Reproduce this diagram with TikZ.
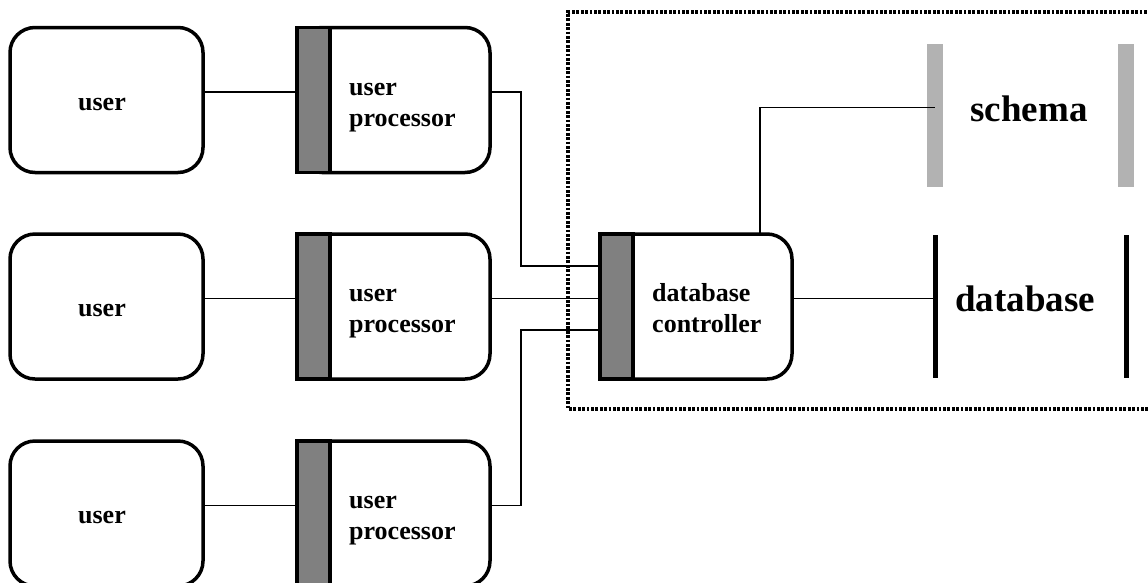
\documentclass[tikz,border=0pt]{standalone}
\usepackage{fontspec}
\setmainfont{Liberation Serif}
\usetikzlibrary{calc}

\tikzset{
  userbox/.style={draw,line width=3.5pt,rounded corners=25pt,minimum width=193pt,minimum height=145pt,inner sep=0pt,outer sep=0pt},
  procbar/.style={draw,line width=3.5pt,fill=gray},
  wire/.style={line width=1.8pt},
  boxtext/.style={font=\fontsize{26}{31}\selectfont\bfseries,inner sep=0pt,align=left},
  bigtext/.style={font=\fontsize{37}{44}\selectfont\bfseries,inner sep=0pt},
  schemabar/.style={fill=gray!60,minimum width=16pt,minimum height=143pt,inner sep=0pt,outer sep=0pt},
  dbbar/.style={fill=black,minimum width=5pt,minimum height=143pt,inner sep=0pt,outer sep=0pt},
  fence/.style={line width=3.5pt,dash pattern=on 2.8pt off 1.6pt}
}

\begin{document}
\begin{tikzpicture}[x=1pt,y=-1pt]
\useasboundingbox[fill=white] (0,0) rectangle (1148,582);

% users
\node[userbox] (u1) at (106.5,100) {};
\node[userbox] (u2) at (106.5,306.5) {};
\node[userbox] (u3) at (106.5,513.5) {};
\node[boxtext] (u1t) at ([xshift=-4.5pt,yshift=-4pt]u1.center) {user};
\node[boxtext] (u2t) at ([xshift=-4.5pt,yshift=-4pt]u2.center) {user};
\node[boxtext] (u3t) at ([xshift=-4.5pt,yshift=-4pt]u3.center) {user};

% user processors
\node[userbox] (p1) at (393.5,100) {};
\node[userbox] (p2) at (393.5,306.5) {};
\node[userbox] (p3) at (393.5,513.5) {};
\draw[procbar] (p1.north west) rectangle ([xshift=33pt]p1.south west);
\draw[procbar] (p2.north west) rectangle ([xshift=33pt]p2.south west);
\draw[procbar] (p3.north west) rectangle ([xshift=33pt]p3.south west);
\node[boxtext,anchor=base west] (p1t) at ([xshift=52pt,yshift=-26pt]p1.west) {user\\processor};
\node[boxtext,anchor=base west] (p2t) at ([xshift=52pt,yshift=-26pt]p2.west) {user\\processor};
\node[boxtext,anchor=base west] (p3t) at ([xshift=52pt,yshift=-26pt]p3.west) {user\\processor};

% database controller
\node[userbox,minimum width=192pt] (c) at (696,306.5) {};
\draw[procbar] (c.north west) rectangle ([xshift=33pt]c.south west);
\node[boxtext,anchor=base west] (ct) at ([xshift=52pt,yshift=-26pt]c.west) {database\\controller};

% schema and database
\node[schemabar] (sL) at (935,115.5) {};
\node[schemabar] (sR) at (1126,115.5) {};
\node[bigtext,anchor=base] (st) at (1029,121.5) {schema};
\node[dbbar] (dL) at (935,306.5) {};
\node[dbbar] (dR) at (1126,306.5) {};
\node[bigtext,anchor=base] (dt) at (1025,311.5) {database};

% connections
\draw[wire] ([yshift=8pt]u1.east) -- ([yshift=8pt]p1.west);
\draw[wire] ([yshift=8pt]u2.east) -- ([yshift=8pt]p2.west);
\draw[wire] ([yshift=8pt]u3.east) -- ([yshift=8pt]p3.west);
\draw[wire] ([yshift=8pt]p1.east) -- ++(31,0) |- ([yshift=40.5pt]c.west);
\draw[wire] ([yshift=8pt]p2.east) -- ([yshift=8pt]c.west);
\draw[wire] ([yshift=8pt]p3.east) -- ++(31,0) |- ([yshift=-23.5pt]c.west);
\draw[wire] ([xshift=64pt]c.north) |- ([yshift=8pt]sL.center);
\draw[wire] ([yshift=8pt]c.east) -- ([yshift=8pt]dL.center);

% system boundary
\draw[fence] (1160,12) -- (568,12) -- (568,409) -- (1160,409);
\end{tikzpicture}
\end{document}
